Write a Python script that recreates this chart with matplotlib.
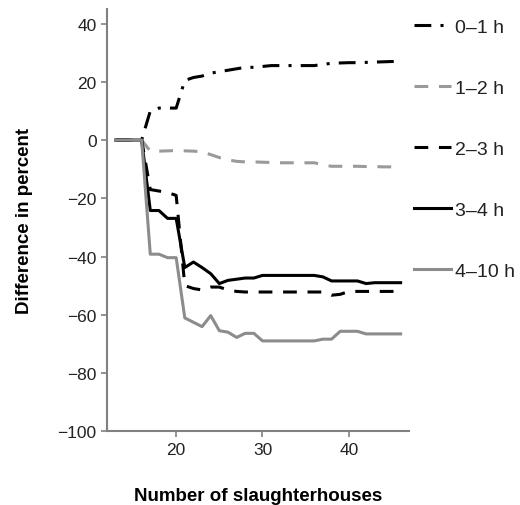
import matplotlib
matplotlib.use("Agg")
import matplotlib.pyplot as plt

plt.rcParams["font.family"] = ["Liberation Sans", "DejaVu Sans"]

# number of slaughterhouses (x) and difference in percent per transport-time class
n_slaughter = list(range(13, 47))

d_0_1 = [0, 0, 0, 0, 10, 11, 11, 11, 20.5, 21.5, 22, 23, 23.5, 24, 24.5, 25, 25,
         25.3, 25.6, 25.6, 25.6, 25.6, 25.6, 25.6, 26, 26.4, 26.5, 26.6, 26.6,
         26.7, 26.8, 26.9, 27, 27]
d_1_2 = [0, 0, 0, 0, -3.8, -3.8, -3.7, -3.6, -3.7, -3.8, -4, -5, -6, -6.8, -7.3,
         -7.5, -7.5, -7.6, -7.7, -7.8, -7.8, -7.8, -7.8, -7.8, -8.5, -9, -9, -9,
         -9, -9.1, -9.1, -9.2, -9.2, -9.2]
d_2_3 = [0, 0, 0, 0, -17, -17.5, -18, -19, -50, -51, -51.5, -50.5, -50.5, -51.5,
         -52, -52.2, -52.2, -52.2, -52.2, -52.2, -52.2, -52.2, -52.2, -52.2,
         -52.2, -53.3, -53, -52, -52, -52, -52, -52, -52, -52]
d_3_4 = [0, 0, 0, 0, -24.2, -24.2, -26.9, -26.9, -43.8, -41.9, -43.8, -45.9,
         -49.3, -48.2, -47.8, -47.4, -47.4, -46.5, -46.5, -46.5, -46.5, -46.5,
         -46.5, -46.5, -47, -48.4, -48.4, -48.4, -48.4, -49.3, -49, -49, -49,
         -49]
d_4_10 = [0, 0, 0, 0, -39.2, -39.2, -40.4, -40.4, -61.1, -62.6, -64.1, -60.3,
          -65.5, -66, -67.8, -66.4, -66.4, -69, -69, -69, -69, -69, -69, -69,
          -68.4, -68.4, -65.7, -65.7, -65.7, -66.6, -66.6, -66.6, -66.6, -66.6]

labels = ["0\u20131 h", "1\u20132 h", "2\u20133 h", "3\u20134 h", "4\u201310 h"]

fig = plt.figure(figsize=[5.2, 5.06], dpi=100)
ax = fig.add_axes([0.206, 0.146, 0.581, 0.834])

lw = 2.2
ax.plot(n_slaughter, d_0_1, color="black", lw=lw, dashes=(5.5, 3, 1, 3), label=labels[0])
ax.plot(n_slaughter, d_1_2, color="#9a9a9a", lw=lw, dashes=(4.5, 3.5), label=labels[1])
ax.plot(n_slaughter, d_2_3, color="black", lw=lw, dashes=(4.5, 3.5), label=labels[2])
ax.plot(n_slaughter, d_3_4, color="black", lw=lw, label=labels[3])
ax.plot(n_slaughter, d_4_10, color="#8c8c8c", lw=lw, label=labels[4])

ax.set_xlim(12, 47)
ax.set_ylim(-100, 45)
ax.set_xticks([20, 30, 40])
ax.set_yticks(range(-100, 41, 20))

for side in ["top", "right"]:
    ax.spines[side].set_visible(False)
for side in ["left", "bottom"]:
    ax.spines[side].set_color("#808080")
    ax.spines[side].set_linewidth(1.5)
ax.tick_params(colors="#808080", labelcolor="#222222", labelsize=12.5,
               length=4, width=1.2)

ax.set_xlabel("Number of slaughterhouses", fontsize=13.5, fontweight="bold",
              labelpad=22)
ax.set_ylabel("Difference in percent", fontsize=13.5, fontweight="bold",
              labelpad=18)

leg = ax.legend(loc="upper left", bbox_to_anchor=(0.99, 0.996), frameon=False,
                fontsize=14, handlelength=1.9, handletextpad=0.2,
                labelspacing=2.23, borderaxespad=0)
for t in leg.get_texts():
    t.set_color("#222222")

fig.savefig("out.png", dpi=100)
